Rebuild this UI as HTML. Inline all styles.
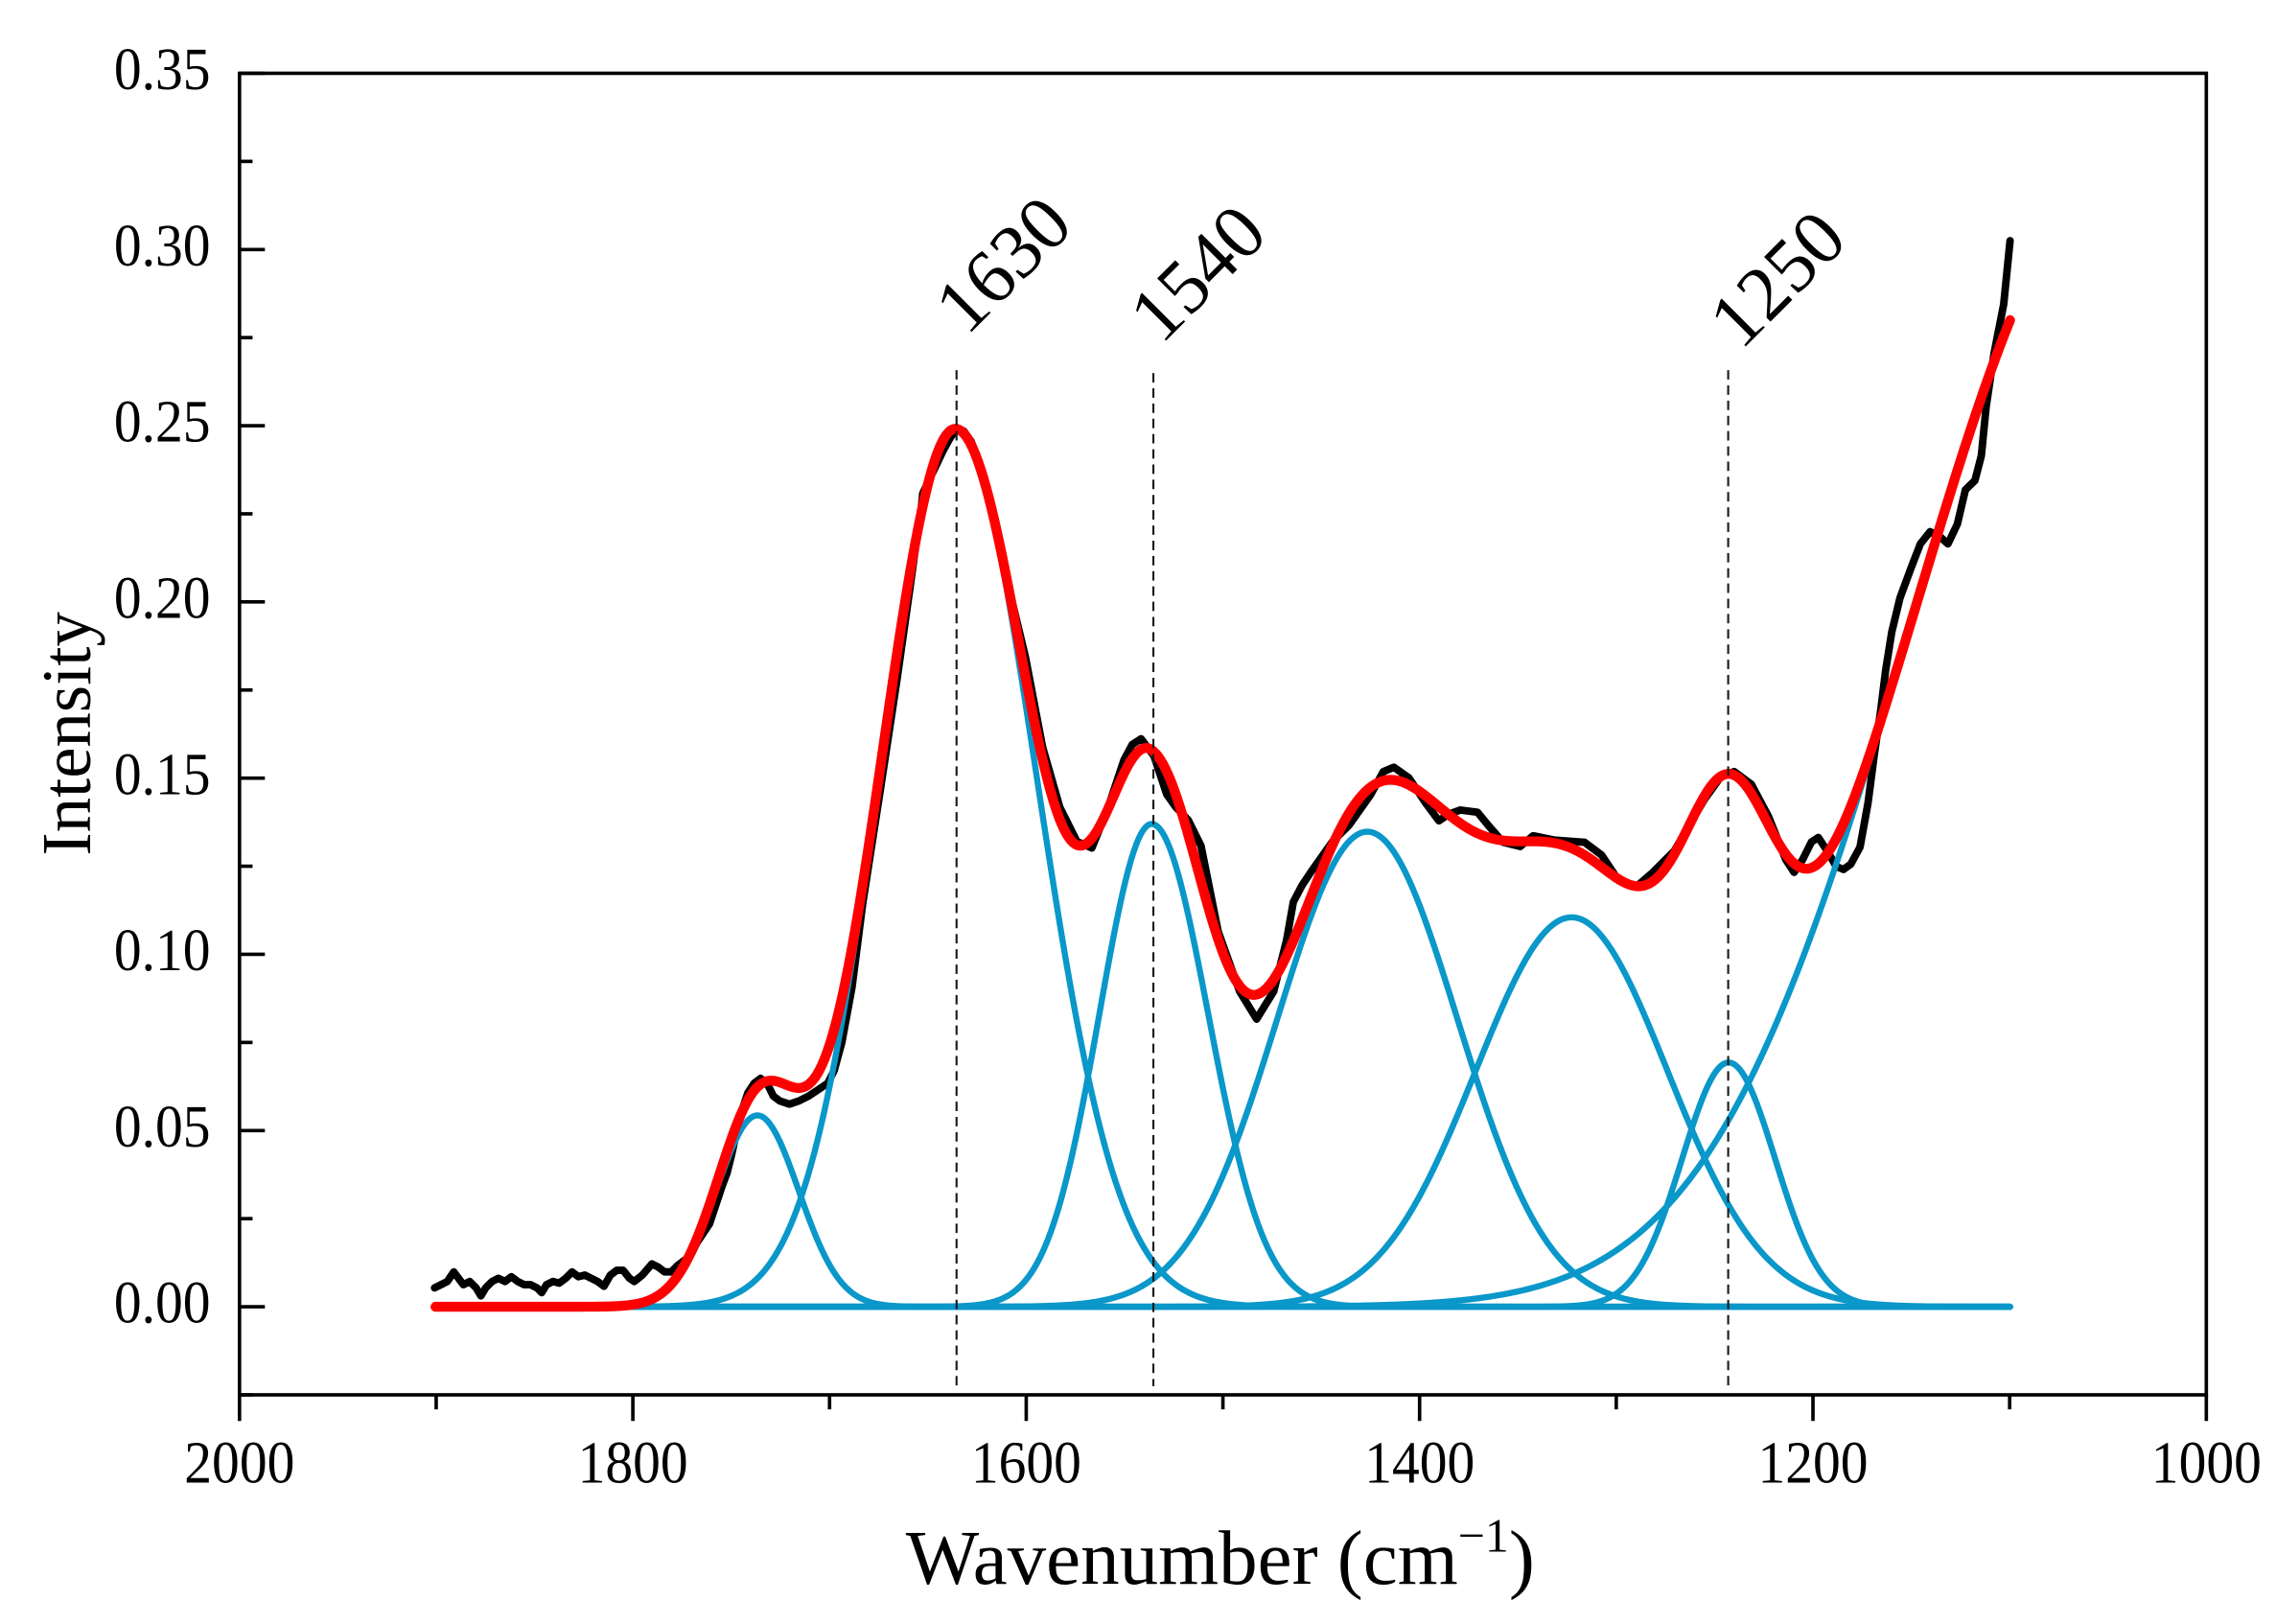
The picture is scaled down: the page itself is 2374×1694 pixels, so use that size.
<!DOCTYPE html>
<html>
<head>
<meta charset="utf-8">
<style>
  html,body{margin:0;padding:0;background:#fff;}
  svg{display:block;}
  text{font-family:"Liberation Serif","Times New Roman",serif;fill:#000;}
</style>
</head>
<body>
<svg id="s" xmlns="http://www.w3.org/2000/svg" width="2374" height="1694" viewBox="0 0 1568 1118.87">
  <rect x="0" y="0" width="1568" height="1118.87" fill="#fff"/>
  <g id="curves"></g>
  <g id="axes" stroke="#000" stroke-width="2.4" fill="none">
    <rect x="165" y="50.5" width="1355" height="910.5"/>
  </g>
  <g id="ticks" stroke="#000" stroke-width="2.4"></g>
  <g id="labels"></g>

  <g stroke="#1a1a1a" stroke-width="1.4" stroke-dasharray="6.5 4" fill="none">
    <line x1="659" y1="255" x2="659" y2="955"/>
    <line x1="794.6" y1="257" x2="794.6" y2="955"/>
    <line x1="1190.6" y1="255" x2="1190.6" y2="955"/>
  </g>

  <text font-size="53" transform="translate(666,232) rotate(-45)">1630</text>
  <text font-size="53" transform="translate(800,238) rotate(-45)">1540</text>
  <text font-size="53" transform="translate(1199.4,242) rotate(-45)">1250</text>

  <text font-size="48" text-anchor="middle" transform="translate(62,505.5) rotate(-90)">Intensity</text>
  <text font-size="53.5" x="624" y="1091">Wavenumber (cm<tspan font-size="33" dy="-22">−1</tspan><tspan dy="22">)</tspan></text>
</svg>
<script>
(function(){
  var NS="http://www.w3.org/2000/svg";
  var Y0=900.3, K=2428;
  function X(w){return 165+(2000-w)*1.355;}
  function Y(v){return Y0-v*K;}

  var tg=document.getElementById('ticks');
  function line(x1,y1,x2,y2){var l=document.createElementNS(NS,'line');l.setAttribute('x1',x1);l.setAttribute('y1',y1);l.setAttribute('x2',x2);l.setAttribute('y2',y2);tg.appendChild(l);}
  for(var i=0;i<=7;i++){var v=i*0.05;line(165,Y(v),182.5,Y(v));}
  for(var i=0;i<8;i++){var v=-0.025+i*0.05;line(165,Y(v),174,Y(v));}
  for(var w=2000;w>=1000;w-=200){line(X(w),961,X(w),979);}
  for(var w=1900;w>1000;w-=200){line(X(w),961,X(w),971);}

  var lg=document.getElementById('labels');
  function txt(s,x,y,anchor,size){var t=document.createElementNS(NS,'text');t.setAttribute('font-size',size);t.setAttribute('text-anchor',anchor);t.setAttribute('transform','translate('+x+','+y+') scale(1,1.08)');t.textContent=s;lg.appendChild(t);}
  var yl=['0.00','0.05','0.10','0.15','0.20','0.25','0.30','0.35'];
  for(var i=0;i<8;i++){txt(yl[i],145,Y(i*0.05)+11,'end',38);}
  var xl=['2000','1800','1600','1400','1200','1000'];
  for(var i=0;i<6;i++){txt(xl[i],X(2000-i*200),1021.6,'middle',38);}

  var comps=[[521.8,0.0543,28.5,28.5],[658,0.249,52,56],[793.4,0.137,36,39],[942,0.1348,62,62],[1082.7,0.1105,66,66],[1190.9,0.0693,32,32],[1456,0.3186,140,140]];
  function c(x,p){var s=x<p[0]?p[2]:p[3];var d=(x-p[0])/s;return p[1]*Math.exp(-0.5*d*d);}
  var xs=[];for(var x=300;x<1384.8;x+=1)xs.push(x);xs.push(1384.8);
  var cg=document.getElementById('curves');
  function mk(d,col,w){var p=document.createElementNS(NS,'path');p.setAttribute('d',d);p.setAttribute('fill','none');p.setAttribute('stroke',col);p.setAttribute('stroke-width',w);p.setAttribute('stroke-linejoin','round');p.setAttribute('stroke-linecap','round');cg.appendChild(p);}

  var B=[[299.4,887.3],[303.8,885.1],[308.2,882.9],[312.6,876.3],[315.9,880.7],[319.2,885.1],[323.6,882.9],[328,887.3],[331.3,892.8],[334.6,887.3],[339,882.9],[343.4,880.7],[347.9,882.9],[352.3,879.6],[356.7,882.9],[361.1,885.1],[365.5,885.1],[369.9,887.3],[373.2,890.6],[376.5,885.1],[380.9,882.9],[385.3,884],[389.7,880.7],[394.1,876.3],[398.5,879.6],[402.9,878.5],[407.3,880.7],[411.7,882.9],[416.1,886.2],[420.5,878.5],[424.9,875.2],[429.3,875.2],[433.7,880.7],[437,882.9],[442.5,878.5],[449.1,870.8],[453.5,873],[457.9,876.3],[462.4,876.3],[466.8,871.9],[471.2,868.6],[475.6,865.3],[480,856.4],[484.4,849.8],[488.8,843.2],[493.2,830],[497.6,816.8],[500.9,808],[504.2,794.8],[507.5,779.4],[510.8,766.2],[515.2,753],[519.6,746.3],[524,743],[528.4,746.3],[532.8,755.2],[537.2,758.5],[543.9,760.7],[550.4,758.5],[557,755.2],[563.6,750.8],[570.3,746.3],[574.7,737.5],
  [580,718],[587,680],[594.4,622],[606.2,546],[618,468],[626.9,405],[632,368],[634.5,352],[635.7,340],[641.6,327.6],[650,310],[655,301],[659.5,295.5],[664,297],[669,304],[674.1,317.3],[680,340],[685.9,364.5],[695,405],[706.5,453],[718.3,514.9],[730.1,556.1],[741.9,579.7],[752.2,584.2],[762.5,559],[774.3,523.7],[780,513],[786.1,509],[795,520.8],[803.8,547.3],[810,556],[818.6,565],[827.4,582.7],[839.2,641.7],[854,683],[865.7,702.1],[877.5,683],[886.4,647.6],[891,621.5],[897,610],[903,601],[917.6,580.3],[929.4,568.5],[944.1,547.8],[953,531.6],[960.3,528.6],[970.7,536],[982.5,553.7],[991.3,565.5],[998,561],[1006,558.1],[1017.9,559.6],[1025.2,568.5],[1035.5,580.3],[1047.3,583.2],[1056.2,575.8],[1071,578.8],[1091.6,580.3],[1103.4,589.1],[1115.2,606.8],[1127,611.2],[1138.8,600.9],[1153.5,586.2],[1174.2,550.8],[1186,534.5],[1194.8,531.6],[1206.6,540.4],[1218.4,562.6],[1230.2,592.1],[1236,601],[1242,592],[1248,580],[1252.7,577],[1259.3,587],[1265,597],[1270,599],[1275,595.4],[1281.4,583.7],[1286.9,553.4],[1291.3,519.6],[1295.7,489.3],[1299,462.3],[1303.3,435.4],[1309,411.8],[1316.5,391.5],[1323,374.7],[1329.7,366.3],[1336.4,369.7],[1342,374.7],[1348.5,361],[1354,337.5],[1360.6,331],[1365,314],[1368.3,280.4],[1373.8,243.3],[1380.4,209.6],[1384.8,165.8]];
  var d='M'+B[0][0]+' '+B[0][1];
  for(var i=1;i<B.length;i++)d+=' L'+B[i][0]+' '+B[i][1];
  mk(d,'#000',5.2);

  for(var k=0;k<comps.length;k++){
    var dd='';
    for(var i=0;i<xs.length;i++){dd+=(i?' L':'M')+xs[i].toFixed(1)+' '+Y(c(xs[i],comps[k])).toFixed(2);}
    mk(dd,'#0a97c9',4.2);
  }
  var dr='';
  for(var i=0;i<xs.length;i++){var s=0;for(var k=0;k<comps.length;k++)s+=c(xs[i],comps[k]);dr+=(i?' L':'M')+xs[i].toFixed(1)+' '+Y(s).toFixed(2);}
  mk(dr,'#ff0000',6.8);
})();
</script>
</body>
</html>
